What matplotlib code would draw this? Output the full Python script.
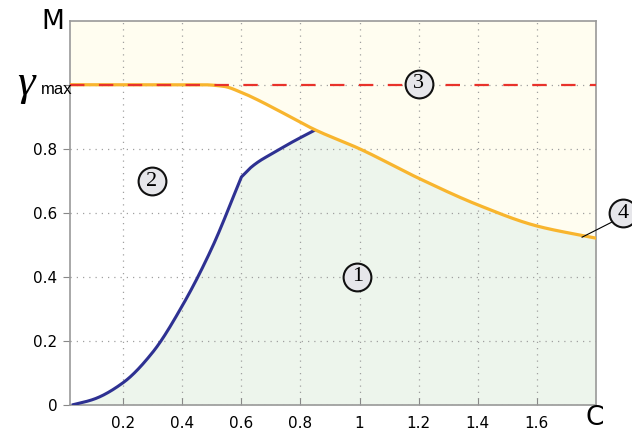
import matplotlib
matplotlib.use("Agg")
import matplotlib.pyplot as plt
import numpy as np

# Data
upper_x = [0.02, 0.20, 0.47, 0.54, 0.60, 0.65, 0.72, 0.85, 1.00, 1.20, 1.40, 1.60, 1.80]
upper_y = [1.00, 1.00, 1.00, 0.995, 0.976, 0.955, 0.922, 0.859, 0.800, 0.708, 0.625, 0.559, 0.521]

lower_x = [0.026, 0.10, 0.20, 0.30, 0.40, 0.50, 0.60, 0.63, 0.66, 0.71, 0.77, 0.85]
lower_y = [0.0, 0.018, 0.07, 0.165, 0.31, 0.49, 0.712, 0.74, 0.761, 0.788, 0.82, 0.859]
lower_kink = 0.60

gamma_max = 1.0
x_ticks = [0.2, 0.4, 0.6, 0.8, 1.0, 1.2, 1.4, 1.6]
x_tick_labels = ["0.2", "0.4", "0.6", "0.8", "1", "1.2", "1.4", "1.6"]
y_ticks = [0, 0.2, 0.4, 0.6, 0.8, 1.0]
y_tick_labels = ["0", "0.2", "0.4", "0.6", "0.8", ""]

region_labels = ["1", "2", "3", "4"]
region_x = [0.992, 0.297, 1.20, 1.892]
region_y = [0.40, 0.698, 1.003, 0.599]


def pchip(x, y, xn):
    """Monotone cubic (Fritsch-Carlson) interpolation for smooth rendering."""
    x = np.asarray(x, float)
    y = np.asarray(y, float)
    h = np.diff(x)
    d = np.diff(y) / h
    n = len(x)
    m = np.zeros(n)
    m[0], m[-1] = d[0], d[-1]
    for k in range(1, n - 1):
        if d[k - 1] * d[k] <= 0:
            m[k] = 0.0
        else:
            w1 = 2 * h[k] + h[k - 1]
            w2 = h[k] + 2 * h[k - 1]
            m[k] = (w1 + w2) / (w1 / d[k - 1] + w2 / d[k])
    idx = np.clip(np.searchsorted(x, xn) - 1, 0, n - 2)
    t = (xn - x[idx]) / h[idx]
    h00 = 2 * t**3 - 3 * t**2 + 1
    h10 = t**3 - 2 * t**2 + t
    h01 = -2 * t**3 + 3 * t**2
    h11 = t**3 - t**2
    return (h00 * y[idx] + h10 * h[idx] * m[idx] + h01 * y[idx + 1]
            + h11 * h[idx] * m[idx + 1])


fig = plt.figure(figsize=(6.32, 4.30), dpi=100)
ax = fig.add_axes([0.1108, 0.0581, 0.8322, 0.8938])
ax.set_xlim(0.02, 1.8)
ax.set_ylim(0, 1.2)

xs = np.linspace(upper_x[0], upper_x[-1], 800)
uy = pchip(upper_x, upper_y, xs)

lx_arr = np.array(lower_x)
ly_arr = np.array(lower_y)
sel1 = lx_arr <= lower_kink
sel2 = lx_arr >= lower_kink
xa = np.linspace(lx_arr[sel1][0], lower_kink, 300)
xb = np.linspace(lower_kink, lx_arr[-1], 200)
ya = pchip(lx_arr[sel1], ly_arr[sel1], xa)
yb = pchip(lx_arr[sel2], ly_arr[sel2], xb)
xl = np.concatenate([xa, xb[1:]])
ly = np.concatenate([ya, yb[1:]])

green = "#EDF5EC"
yellowfill = "#FFFDF0"
env_x = np.concatenate([xl, xs[xs > lower_x[-1]]])
env_y = np.concatenate([ly, uy[xs > lower_x[-1]]])
ax.fill_between(env_x, 0, env_y, color=green, lw=0, zorder=0)
ax.fill_between(xs, uy, 1.2, color=yellowfill, lw=0, zorder=0)

ax.grid(True, linestyle=(0, (1, 4)), color="#a0a0a0", lw=0.9)
ax.set_axisbelow(True)

ax.plot(xl, ly, color="#2E3192", lw=2.2, zorder=3, solid_capstyle="butt")
ax.plot(xs, uy, color="#F8B52E", lw=2.3, zorder=4)
ax.plot([0.02, 1.8], [gamma_max, gamma_max], color="#E8322B", lw=1.6,
        dashes=(6.5, 6.5), zorder=5)

ax.set_xticks(x_ticks)
ax.set_xticklabels(x_tick_labels)
ax.set_yticks(y_ticks)
ax.set_yticklabels(y_tick_labels)
ax.tick_params(axis="x", direction="in", length=5, color="#888888", labelsize=11, pad=8)
ax.tick_params(axis="y", direction="out", length=5, color="#888888", labelsize=11, pad=4)
for s in ax.spines.values():
    s.set_color("#999999")
    s.set_linewidth(1.2)

# Axis labels
fig.text(53 / 632, 1 - 22 / 430, "M", fontsize=19, ha="center", va="center")
fig.text(595 / 632, 1 - 418 / 430, "C", fontsize=19, ha="center", va="center")
fig.text(26 / 632, 1 - 84 / 430, "γ", fontsize=32, ha="center", va="center",
         family="Liberation Serif", style="italic")
fig.text(41 / 632, 1 - 89 / 430, "max", fontsize=12, ha="left", va="center",
         family="Liberation Sans")

# Annotation line for region 4
ax.plot([1.753, 1.86], [0.524, 0.574], color="black", lw=0.8, clip_on=False, zorder=6)

for lab, rx, ry in zip(region_labels, region_x, region_y):
    ax.plot(rx, ry, marker="o", ms=20, mfc="#E6E6EA", mec="#111111", mew=1.5,
            clip_on=False, zorder=7)
    ax.text(rx, ry, lab, fontsize=16, ha="center", va="center",
            family="Liberation Serif", zorder=8, clip_on=False)

fig.savefig("out.png", dpi=100)
